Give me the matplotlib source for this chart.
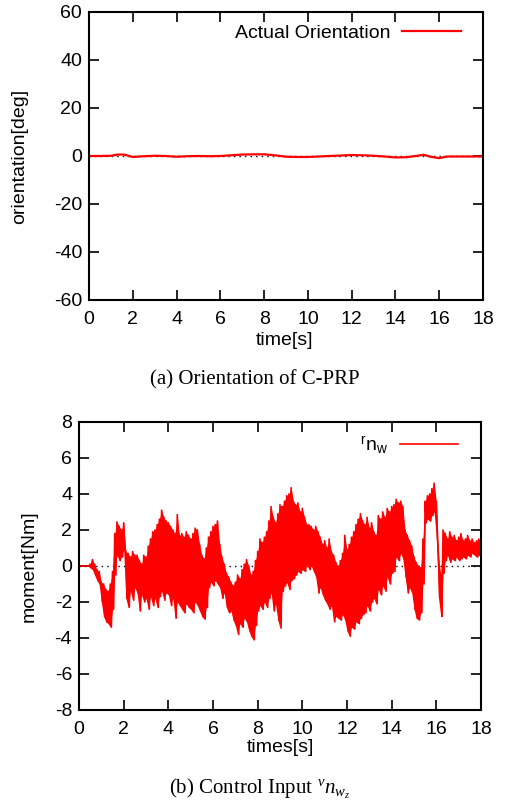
import numpy as np
import matplotlib
matplotlib.use("Agg")
import matplotlib.pyplot as plt

plt.rcParams['font.family'] = ['Liberation Sans', 'DejaVu Sans']
plt.rcParams['mathtext.fontset'] = 'custom'
plt.rcParams['mathtext.rm'] = 'Liberation Sans'
plt.rcParams['mathtext.it'] = 'Liberation Serif:italic'
plt.rcParams['axes.unicode_minus'] = False

# ---- top panel data: orientation [deg] ----
orient_t = [0.0, 0.5, 1.0, 1.3, 1.6, 2.0, 2.5, 3.0, 3.5, 4.0, 4.5, 5.0, 5.5, 6.0,
            6.5, 7.0, 7.5, 8.0, 8.5, 9.0, 9.5, 10.0, 10.5, 11.0, 11.5, 12.0, 12.5,
            13.0, 13.5, 14.0, 14.5, 15.0, 15.3, 15.6, 16.0, 16.3, 16.5, 17.0, 17.5, 18.0]
orient_v = [0.0, 0.0, 0.1, 0.6, 0.6, -0.4, -0.1, 0.1, 0.0, -0.3, -0.1, 0.0, -0.1, 0.0,
            0.3, 0.6, 0.7, 0.7, 0.3, -0.3, -0.4, -0.4, -0.2, 0.0, 0.2, 0.4, 0.3,
            0.1, -0.2, -0.6, -0.5, 0.1, 0.5, -0.3, -0.9, -0.3, -0.2, -0.2, -0.2, -0.2]

# ---- bottom panel data: moment [Nm], upper / lower excursions every 0.1 s ----
moment_t = np.round(np.arange(0, 181) * 0.1, 1)
moment_upper = [0, 0, 0, 0, 0, 0.1, 0.35, 0.1, -0.2, -0.3,
                -0.9, -1.0, -1.3, -1.4, -1.0, -0.3, 1.8, 2.45, 2.2, 2.0,
                2.4, 0.8, 0.7, 0.5, 0.8, 0.6, 0.6, 0.3, 0.1, 0.6,
                0.5, 1.1, 1.5, 1.9, 2.0, 2.3, 2.6, 3.1, 2.7, 2.5,
                2.4, 2.2, 2.0, 1.8, 2.85, 1.7, 1.8, 1.6, 1.9, 1.7,
                1.5, 1.8, 2.1, 2.0, 1.2, 0.6, 0.4, 1.0, 1.6, 1.9,
                2.2, 2.3, 2.5, 1.2, 0.5, 0.1, -0.4, -0.6, -0.9, -1.1,
                -0.9, -0.5, -0.7, -0.2, 0.1, 0.35, 0.0, -0.5, -0.3, 0.3,
                0.8, 1.5, 1.3, 1.6, 1.9, 2.5, 3.3, 2.7, 2.4, 2.9,
                3.4, 3.3, 3.6, 3.9, 4.0, 4.35, 3.6, 3.4, 3.5, 3.0,
                3.2, 2.7, 2.3, 2.3, 2.2, 2.0, 2.2, 1.9, 1.6, 1.2,
                1.4, 1.0, 1.5, 0.8, 0.6, 0.2, 0.0, 0.3, 0.7, 1.7,
                0.9, 1.2, 1.6, 1.9, 2.3, 2.6, 2.9, 2.5, 2.3, 2.7,
                2.1, 2.4, 1.9, 1.7, 2.8, 2.6, 3.0, 2.7, 3.2, 3.0,
                3.3, 3.4, 3.7, 3.5, 3.6, 3.3, 2.0, 1.7, 1.4, 1.1,
                0.5, 0.2, 0.0, -0.1, 1.5, 3.6, 3.9, 4.0, 4.3, 4.6,
                3.6, 0.5, -0.5, 2.0, 1.8, 1.5, 1.9, 1.6, 1.7, 1.4,
                1.6, 1.8, 1.4, 1.5, 1.7, 1.4, 1.5, 1.3, 1.4, 1.5,
                1.4]
moment_lower = [0, 0, 0, 0, 0, -0.1, -0.2, -0.5, -0.8, -1.0,
                -2.0, -2.8, -3.1, -3.2, -3.4, -2.4, -0.5, 0.6, 0.3, 0.5,
                0.9, -1.8, -2.3, -1.4, -1.9, -1.2, -1.5, -2.5, -1.6, -2.0,
                -1.8, -2.4, -1.7, -2.2, -1.8, -2.3, -1.7, -1.4, -1.9, -1.5,
                -1.6, -2.2, -1.8, -2.9, -2.0, -2.2, -2.4, -2.6, -2.1, -2.3,
                -2.4, -2.6, -2.0, -2.2, -2.5, -2.8, -2.95, -2.3, -1.2, -0.9,
                -1.1, -0.8, -1.0, -1.2, -1.8, -1.5, -2.3, -2.6, -2.5, -3.0,
                -3.3, -3.8, -3.2, -3.4, -2.9, -3.1, -3.6, -3.9, -4.1, -3.3,
                -2.5, -2.2, -2.4, -2.0, -2.3, -1.8, -1.5, -2.5, -2.1, -3.0,
                -3.45, -1.4, -1.1, -0.9, -1.3, -0.8, -0.7, -0.5, -0.3, -0.4,
                -0.2, -0.3, 0.1, -0.2, 0.0, -0.3, -0.6, -1.5, -1.2, -1.6,
                -1.9, -2.1, -2.4, -2.2, -3.1, -2.8, -2.9, -3.0, -2.7, -3.0,
                -3.6, -3.9, -3.4, -3.5, -3.1, -3.2, -2.9, -2.7, -2.6, -2.2,
                -2.5, -2.0, -1.8, -2.1, -1.3, -1.6, -1.1, -1.4, -0.6, -1.0,
                -0.4, -0.3, 0.5, 0.3, 0.7, 0.4, -0.6, -1.5, -1.2, -1.5,
                -2.4, -2.9, -3.0, -2.6, -1.0, 2.4, 2.6, 2.5, 2.8, 3.0,
                1.6, -1.8, -2.8, -0.4, 0.3, 0.6, 0.2, 0.4, 0.3, 0.5,
                0.3, 0.4, 0.5, 0.4, 0.6, 0.5, 0.7, 0.6, 0.5, 0.6,
                0.7]

x_ticks = [0, 2, 4, 6, 8, 10, 12, 14, 16, 18]
top_yticks = [-60, -40, -20, 0, 20, 40, 60]
bot_yticks = [-8, -6, -4, -2, 0, 2, 4, 6, 8]

W, H = 511, 806
FS = 14
fig = plt.figure(figsize=(W / 100, H / 100), dpi=100)

def px_axes(l, r, t, b):
    return fig.add_axes([l / W, 1 - b / H, (r - l) / W, (b - t) / H])

def style(ax):
    ax.tick_params(direction='in', length=7, width=1.2, top=True, right=True,
                   labelsize=FS)
    ax.tick_params(axis='x', pad=8)
    ax.tick_params(axis='y', pad=5)
    for s in ax.spines.values():
        s.set_linewidth(1.5)

# ---- top panel ----
ax1 = px_axes(89, 483, 12, 300)
ax1.axhline(0, color='black', lw=1.0, ls=(0, (1, 3)), zorder=1)
ax1.plot(orient_t, orient_v, color='#ff0000', lw=1.6, label='Actual Orientation', zorder=2)
ax1.set_xlim(0, 18)
ax1.set_ylim(-60, 60)
ax1.set_xticks(x_ticks)
ax1.set_yticks(top_yticks)
style(ax1)
ax1.set_xlabel('time[s]', fontsize=FS)
ax1.xaxis.set_label_coords(0.497, -0.111)
ax1.set_ylabel('orientation[deg]', fontsize=FS)
ax1.yaxis.set_label_coords(-0.155, 0.5)
ax1.legend(loc='upper right', bbox_to_anchor=(0.975, 1.0), frameon=False, fontsize=FS,
           markerfirst=False, handlelength=3.0, handletextpad=0.6, borderaxespad=0.25)

# ---- bottom panel ----
ax2 = px_axes(79, 481, 422, 710)
ax2.axhline(0, color='black', lw=1.0, ls=(0, (1, 3)), zorder=1)
ax2.fill_between(moment_t, moment_lower, moment_upper, color='#ff0000', lw=0, zorder=2)
t_zig = np.empty(2 * len(moment_t))
v_zig = np.empty(2 * len(moment_t))
t_zig[0::2] = moment_t
t_zig[1::2] = moment_t + 0.05
v_zig[0::2] = moment_upper
v_zig[1::2] = moment_lower
ax2.plot(t_zig, v_zig, color='#ff0000', lw=1.2, label=r'$^{\mathrm{r}}\mathrm{n}_{\mathrm{w}}$', zorder=2)
ax2.set_xlim(0, 18)
ax2.set_ylim(-8, 8)
ax2.set_xticks(x_ticks)
ax2.set_yticks(bot_yticks)
style(ax2)
ax2.set_xlabel('times[s]', fontsize=FS)
ax2.xaxis.set_label_coords(0.5, -0.101)
ax2.set_ylabel('moment[Nm]', fontsize=FS)
ax2.yaxis.set_label_coords(-0.104, 0.5)
ax2.legend(loc='upper right', bbox_to_anchor=(0.975, 1.0), frameon=False, fontsize=FS,
           markerfirst=False, handlelength=3.0, handletextpad=0.6, borderaxespad=0.25)

# ---- captions ----
fig.text(255 / W, 1 - 380 / H, '(a) Orientation of C-PRP', ha='center', va='center',
         family='Liberation Serif', fontsize=15)
fig.text(260 / W, 1 - 789 / H, r'(b) Control Input $^{v}n_{w_z}$', ha='center', va='center',
         family='Liberation Serif', fontsize=15)

fig.savefig('out.png', dpi=100)
